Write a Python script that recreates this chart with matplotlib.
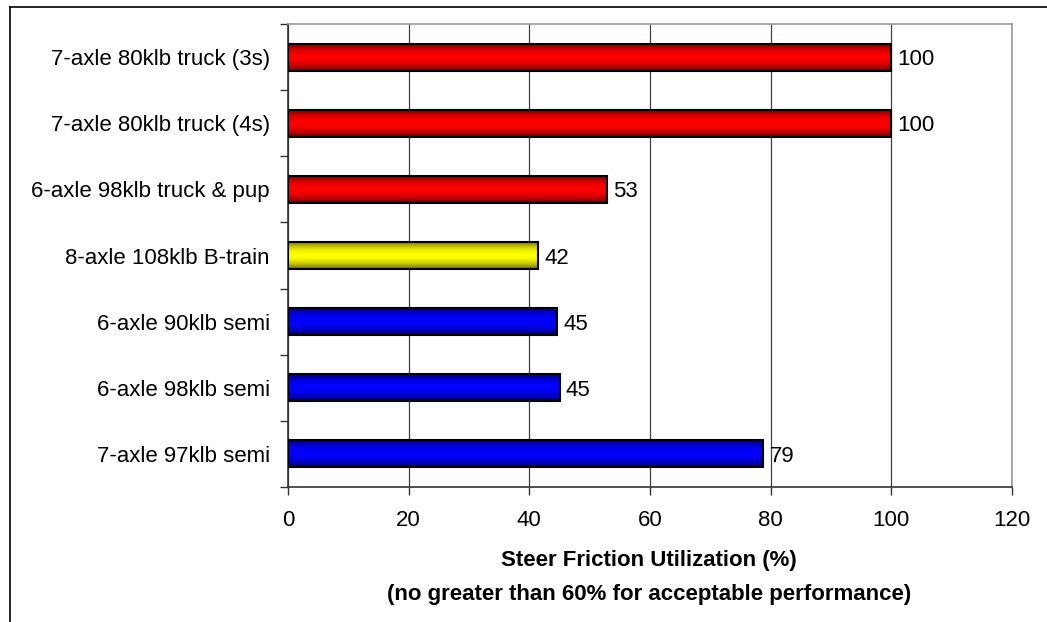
import numpy as np
import matplotlib
matplotlib.use("Agg")
import matplotlib.pyplot as plt
from matplotlib.colors import LinearSegmentedColormap
from matplotlib.lines import Line2D

plt.rcParams['font.family'] = ['Liberation Sans', 'DejaVu Sans']

categories = ["7-axle 80klb truck (3s)", "7-axle 80klb truck (4s)",
              "6-axle 98klb truck & pup", "8-axle 108klb B-train",
              "6-axle 90klb semi", "6-axle 98klb semi", "7-axle 97klb semi"]
values = [100, 100, 52.8, 41.5, 44.6, 45.0, 78.8]
labels = ["100", "100", "53", "42", "45", "45", "79"]
groups = ["red", "red", "red", "yellow", "blue", "blue", "blue"]

shades = {"red": ("#600000", "#ff0000"),
          "yellow": ("#606000", "#ffff00"),
          "blue": ("#000060", "#0000ff")}

fig = plt.figure(figsize=(10.47, 6.22), dpi=100)
ax = fig.add_axes([288/1047, 1-487/622, 724/1047, 463/622])

y = np.arange(len(categories))
bars = ax.barh(y, values, height=0.41, facecolor='none', edgecolor='black',
               linewidth=1.5, zorder=3)

# vertical gradient fill inside each bar
t = np.linspace(0, 1, 64)
grad = np.sin(np.pi * t) ** 0.8
for b, g in zip(bars, groups):
    dark, bright = shades[g]
    cmap = LinearSegmentedColormap.from_list(g, [dark, bright])
    x0, y0 = b.get_x(), b.get_y()
    w, h = b.get_width(), b.get_height()
    ax.imshow(grad[:, None], cmap=cmap, aspect='auto', vmin=0, vmax=1,
              extent=[x0, x0 + w, y0, y0 + h], zorder=2, interpolation='bilinear')

for b, lab in zip(bars, labels):
    ax.text(b.get_width() + 1.0, b.get_y() + b.get_height() / 2, lab,
            va='center_baseline', ha='left', fontsize=16)

ax.set_xlim(0, 120)
ax.set_ylim(len(categories) - 0.5, -0.5)
ax.set_xticks(np.arange(0, 121, 20))
ax.tick_params(axis='x', labelsize=16, length=6, width=1, pad=10.5, color='#333333')
ax.set_yticks(y)
ax.set_yticklabels(categories, fontsize=16)
ax.set_yticks(np.arange(-0.5, len(categories)), minor=True)
ax.tick_params(axis='y', which='major', length=0, pad=13)
ax.tick_params(axis='y', which='minor', length=6, width=1, color='#333333')
ax.set_aspect('auto')

ax.grid(axis='x', color='#404040', linewidth=0.9, zorder=0)
ax.set_axisbelow(True)
for s in ['left', 'bottom']:
    ax.spines[s].set_color('#333333')
    ax.spines[s].set_linewidth(1.2)
for s in ['top', 'right']:
    ax.spines[s].set_color('#999999')
    ax.spines[s].set_linewidth(1.2)

ax.text(0.4986, -0.159, "Steer Friction Utilization (%)",
        transform=ax.transAxes, ha='center', va='center',
        fontsize=16, fontweight='bold')
ax.text(0.4986, -0.232, "(no greater than 60% for acceptable performance)",
        transform=ax.transAxes, ha='center', va='center',
        fontsize=16, fontweight='bold')

# outer chart frame
fig.add_artist(Line2D([10/1047, 1], [1-7/622, 1-7/622], color='black', lw=1.2))
fig.add_artist(Line2D([10/1047, 10/1047], [0, 1-7/622], color='black', lw=1.2))

fig.savefig("out.png", dpi=100)
